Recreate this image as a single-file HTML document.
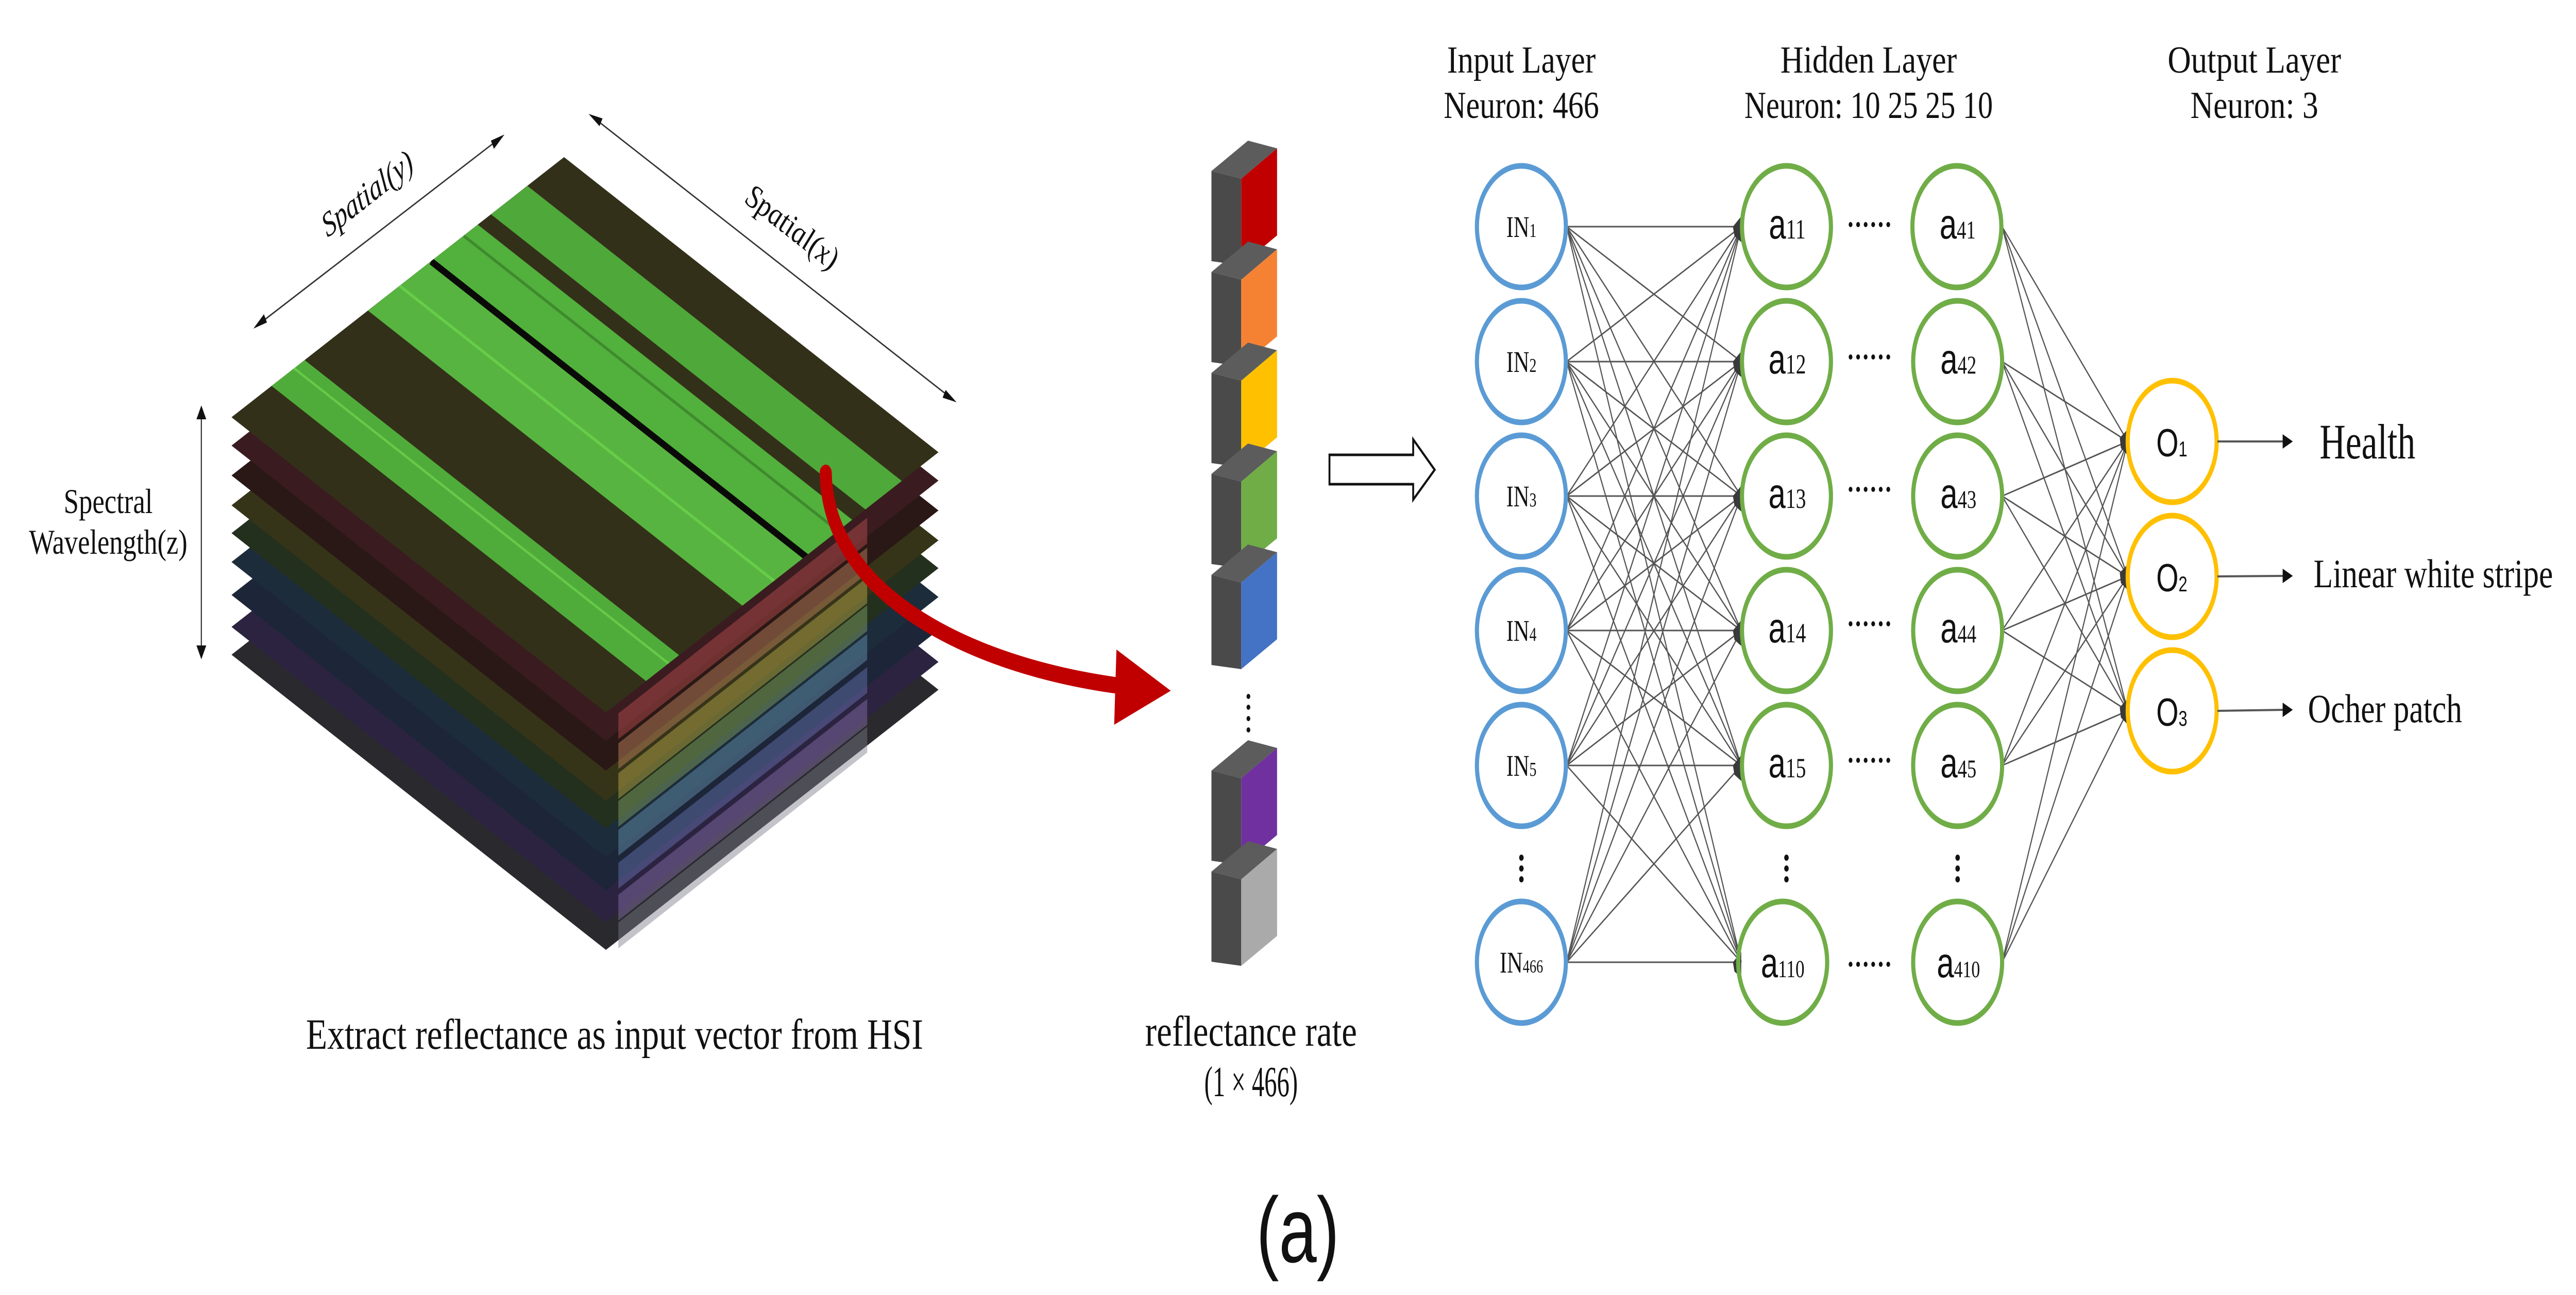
<!DOCTYPE html>
<html><head><meta charset="utf-8"><style>
html,body{margin:0;padding:0;background:#fff;overflow:hidden;width:100%;height:100%;}
svg{display:block;width:100vw;height:100vh;}
.s{font-family:"Liberation Serif",serif;fill:#111;}
.a{font-family:"Liberation Sans",sans-serif;fill:#111;}
</style></head><body>
<svg viewBox="0 0 6832 2514" preserveAspectRatio="none" xmlns="http://www.w3.org/2000/svg">
<defs>
<polygon id="L" points="1496,305 2489,878 1607,1383 614,810"/>
<clipPath id="topclip"><polygon points="1496,305 2489,878 1607,1383 614,810"/></clipPath>
<polygon id="P1" points="1640,1330 2300,950 2300,1000 1640,1380"/>
</defs>
<rect width="6832" height="2514" fill="#fff"/>

<g>
<use href="#L" transform="translate(0,461)" fill="#2a2a2e"/>
<use href="#P1" transform="translate(0,461)" fill="#7a7a88" opacity="0.45"/>
<use href="#L" transform="translate(0,407)" fill="#2c2340"/>
<use href="#P1" transform="translate(0,407)" fill="#8a70b0" opacity="0.45"/>
<use href="#L" transform="translate(0,345)" fill="#1d2538"/>
<use href="#P1" transform="translate(0,345)" fill="#6a78b8" opacity="0.45"/>
<use href="#L" transform="translate(0,281)" fill="#1c2c3a"/>
<use href="#P1" transform="translate(0,281)" fill="#6a98b8" opacity="0.45"/>
<use href="#L" transform="translate(0,225)" fill="#24301e"/>
<use href="#P1" transform="translate(0,225)" fill="#88a868" opacity="0.45"/>
<use href="#L" transform="translate(0,171)" fill="#363418"/>
<use href="#P1" transform="translate(0,171)" fill="#c0b050" opacity="0.45"/>
<use href="#L" transform="translate(0,113)" fill="#2a1816"/>
<use href="#P1" transform="translate(0,113)" fill="#c88a60" opacity="0.45"/>
<use href="#L" transform="translate(0,55)" fill="#3a1c20"/>
<use href="#P1" transform="translate(0,55)" fill="#c05050" opacity="0.45"/>
<use href="#L" fill="#33301a"/>
<g clip-path="url(#topclip)">
<polygon points="1399,361 1302,416 2394,1046 2491,991" fill="#4fa83a"/>
<polygon points="1267,436 1143,507 2235,1137 2359,1066" fill="#52b03c"/>
<polygon points="1143,507 976,603 2068,1233 2235,1137" fill="#58b440"/>
<polygon points="808,699 720,749 1812,1379 1900,1329" fill="#50ac3a"/>
<line x1="1143" y1="507" x2="2235" y2="1137" stroke="#0a0a08" stroke-width="14"/>
<line x1="1060" y1="555" x2="2152" y2="1185" stroke="#6ed84e" stroke-width="6" opacity="0.7"/>
<line x1="1230" y1="458" x2="2322" y2="1088" stroke="#3f8a2e" stroke-width="6"/>
<line x1="780" y1="715" x2="1872" y2="1345" stroke="#70d850" stroke-width="5" opacity="0.7"/>
</g>
</g>

<g stroke="#333" stroke-width="3" fill="#111">
<line x1="680" y1="633" x2="1330" y2="266"/>
<polygon points="672,638 700,610 708,626" stroke="none"/>
<polygon points="1338,261 1310,289 1302,273" stroke="none"/>
<line x1="1570" y1="226" x2="2528" y2="776"/>
<polygon points="1561,221 1598,230 1590,245" stroke="none"/>
<polygon points="2537,781 2500,772 2508,757" stroke="none"/>
<line x1="534" y1="800" x2="534" y2="1267"/>
<polygon points="534,787 521,814 547,814" stroke="none"/>
<polygon points="534,1280 521,1253 547,1253" stroke="none"/>
</g>
<text class="s" font-size="68" font-style="italic" text-anchor="middle" transform="translate(985,395) rotate(-30)">Spatial(y)</text>
<text class="s" font-size="68" font-style="italic" text-anchor="middle" transform="translate(2090,460) rotate(30)">Spatial(x)</text>
<text class="s" font-size="68" x="287" y="996" text-anchor="middle" textLength="236" lengthAdjust="spacingAndGlyphs">Spectral</text>
<text class="s" font-size="68" x="287" y="1075" text-anchor="middle" textLength="420" lengthAdjust="spacingAndGlyphs">Wavelength(z)</text>

<path d="M2190,918 C2195,1150 2560,1290 2965,1331" fill="none" stroke="#c00000" stroke-width="32" stroke-linecap="round"/>
<polygon points="2961,1261 3105,1341 2955,1407" fill="#c00000"/>

<text class="s" font-size="84" x="1630" y="2036" text-anchor="middle" textLength="1637" lengthAdjust="spacingAndGlyphs">Extract reflectance as input vector from HSI</text>

<defs>
<g id="B">
<polygon points="3213,332 3292,347 3387,288 3310,273" fill="#5c5c5c"/>
<polygon points="3213,332 3292,347 3292,515 3213,507" fill="#4a4a4a"/>
</g>
<polygon id="F" points="3292,347 3387,288 3387,457 3292,515"/>
</defs>
<use href="#B"/><use href="#F" fill="#c00000"/>
<use href="#B" transform="translate(0,196)"/><use href="#F" transform="translate(0,196)" fill="#f58233"/>
<use href="#B" transform="translate(0,392)"/><use href="#F" transform="translate(0,392)" fill="#ffc000"/>
<use href="#B" transform="translate(0,588)"/><use href="#F" transform="translate(0,588)" fill="#70ad47"/>
<use href="#B" transform="translate(0,784)"/><use href="#F" transform="translate(0,784)" fill="#4472c4"/>
<use href="#B" transform="translate(0,1164)"/><use href="#F" transform="translate(0,1164)" fill="#7030a0"/>
<use href="#B" transform="translate(0,1360)"/><use href="#F" transform="translate(0,1360)" fill="#aaaaaa"/>
<g fill="#111"><circle cx="3311" cy="1352" r="5"/><circle cx="3311" cy="1373" r="5"/><circle cx="3311" cy="1395" r="5"/><circle cx="3311" cy="1417" r="5"/></g>
<text class="s" font-size="84" x="3318" y="2030" text-anchor="middle" textLength="562" lengthAdjust="spacingAndGlyphs">reflectance rate</text>
<text class="s" font-size="84" x="3318" y="2128" text-anchor="middle" textLength="248" lengthAdjust="spacingAndGlyphs">(1 × 466)</text>

<polygon points="3526,883 3748,883 3748,853 3805,912 3748,970 3748,940 3526,940" fill="#fff" stroke="#111" stroke-width="5"/>

<text class="a" font-size="180" x="3442" y="2450" text-anchor="middle">(a)</text>

<g class="s" font-size="74" text-anchor="middle" lengthAdjust="spacingAndGlyphs">
<text x="4035" y="141" textLength="394" lengthAdjust="spacingAndGlyphs">Input Layer</text>
<text x="4035" y="229" textLength="412" lengthAdjust="spacingAndGlyphs">Neuron: 466</text>
<text x="4956" y="141" textLength="468" lengthAdjust="spacingAndGlyphs">Hidden Layer</text>
<text x="4956" y="229" textLength="659" lengthAdjust="spacingAndGlyphs">Neuron: 10 25 25 10</text>
<text x="5979" y="141" textLength="460" lengthAdjust="spacingAndGlyphs">Output Layer</text>
<text x="5979" y="229" textLength="339" lengthAdjust="spacingAndGlyphs">Neuron: 3</text>
</g>

<path fill="none" stroke="#555" stroke-width="3" d="
M4155 440L4618 440M4155 440L4618 702M4155 440L4618 963M4155 440L4618 1224M4155 440L4618 1486M4155 440L4618 1868
M4155 702L4618 440M4155 702L4618 702M4155 702L4618 963M4155 702L4618 1224M4155 702L4618 1486M4155 702L4618 1868
M4155 963L4618 440M4155 963L4618 702M4155 963L4618 963M4155 963L4618 1224M4155 963L4618 1486M4155 963L4618 1868
M4155 1224L4618 440M4155 1224L4618 702M4155 1224L4618 963M4155 1224L4618 1224M4155 1224L4618 1486M4155 1224L4618 1868
M4155 1486L4618 440M4155 1486L4618 702M4155 1486L4618 963M4155 1486L4618 1224M4155 1486L4618 1486M4155 1486L4618 1868
M4155 1868L4618 440M4155 1868L4618 702M4155 1868L4618 963M4155 1868L4618 1224M4155 1868L4618 1486M4155 1868L4618 1868
M5310 440L5643 857M5310 440L5643 1119M5310 440L5643 1380
M5310 702L5643 857M5310 702L5643 1119M5310 702L5643 1380
M5310 963L5643 857M5310 963L5643 1119M5310 963L5643 1380
M5310 1224L5643 857M5310 1224L5643 1119M5310 1224L5643 1380
M5310 1486L5643 857M5310 1486L5643 1119M5310 1486L5643 1380
M5310 1868L5643 857M5310 1868L5643 1119M5310 1868L5643 1380
"/>
<g fill="#3a3a3a">
<path d="M4618 420 L4618 470 L4600 458 L4596 440 Z"/>
<path d="M4618 420 L4618 470 L4600 458 L4596 440 Z" transform="translate(0,262)"/>
<path d="M4618 420 L4618 470 L4600 458 L4596 440 Z" transform="translate(0,523)"/>
<path d="M4618 420 L4618 470 L4600 458 L4596 440 Z" transform="translate(0,784)"/>
<path d="M4618 420 L4618 470 L4600 458 L4596 440 Z" transform="translate(0,1046)"/>
<path d="M4618 420 L4618 470 L4600 458 L4596 440 Z" transform="translate(0,1428)"/>
<path d="M5645 832 L5645 885 L5625 870 L5622 850 Z"/>
<path d="M5645 832 L5645 885 L5625 870 L5622 850 Z" transform="translate(0,262)"/>
<path d="M5645 832 L5645 885 L5625 870 L5622 850 Z" transform="translate(0,523)"/>
</g>

<g fill="none" stroke-width="11">
<g stroke="#5b9bd5">
<circle cx="4035" cy="440" r="118"/><circle cx="4035" cy="702" r="118"/><circle cx="4035" cy="963" r="118"/>
<circle cx="4035" cy="1224" r="118"/><circle cx="4035" cy="1486" r="118"/><circle cx="4035" cy="1868" r="118"/>
</g>
<g stroke="#70ad47">
<circle cx="4738" cy="440" r="118"/><circle cx="4738" cy="702" r="118"/><circle cx="4738" cy="963" r="118"/>
<circle cx="4738" cy="1224" r="118"/><circle cx="4738" cy="1486" r="118"/><circle cx="4728" cy="1868" r="118"/>
<circle cx="5190" cy="440" r="118"/><circle cx="5192" cy="702" r="118"/><circle cx="5192" cy="963" r="118"/>
<circle cx="5192" cy="1224" r="118"/><circle cx="5192" cy="1486" r="118"/><circle cx="5192" cy="1868" r="118"/>
</g>
<g stroke="#ffc000">
<circle cx="5761" cy="857" r="118"/><circle cx="5761" cy="1119" r="118"/><circle cx="5761" cy="1380" r="118"/>
</g>
</g>

<g class="s" font-size="58" text-anchor="middle">
<text x="4035" y="460">IN<tspan font-size="38">1</tspan></text>
<text x="4035" y="722">IN<tspan font-size="38">2</tspan></text>
<text x="4035" y="983">IN<tspan font-size="38">3</tspan></text>
<text x="4035" y="1244">IN<tspan font-size="38">4</tspan></text>
<text x="4035" y="1506">IN<tspan font-size="38">5</tspan></text>
<text x="4035" y="1888">IN<tspan font-size="36">466</tspan></text>
</g>
<g text-anchor="middle">
<text x="4740" y="463"><tspan class="a" font-size="82">a</tspan><tspan class="s" font-size="54">11</tspan></text>
<text x="4740" y="725"><tspan class="a" font-size="82">a</tspan><tspan class="s" font-size="54">12</tspan></text>
<text x="4740" y="986"><tspan class="a" font-size="82">a</tspan><tspan class="s" font-size="54">13</tspan></text>
<text x="4740" y="1247"><tspan class="a" font-size="82">a</tspan><tspan class="s" font-size="54">14</tspan></text>
<text x="4740" y="1509"><tspan class="a" font-size="82">a</tspan><tspan class="s" font-size="54">15</tspan></text>
<text x="4728" y="1897"><tspan class="a" font-size="82">a</tspan><tspan class="s" font-size="48">110</tspan></text>
<text x="5192" y="463"><tspan class="a" font-size="82">a</tspan><tspan class="s" font-size="50">41</tspan></text>
<text x="5194" y="725"><tspan class="a" font-size="82">a</tspan><tspan class="s" font-size="50">42</tspan></text>
<text x="5194" y="986"><tspan class="a" font-size="82">a</tspan><tspan class="s" font-size="50">43</tspan></text>
<text x="5194" y="1247"><tspan class="a" font-size="82">a</tspan><tspan class="s" font-size="50">44</tspan></text>
<text x="5194" y="1509"><tspan class="a" font-size="82">a</tspan><tspan class="s" font-size="50">45</tspan></text>
<text x="5194" y="1897"><tspan class="a" font-size="82">a</tspan><tspan class="s" font-size="46">410</tspan></text>
<text x="5760" y="886"><tspan class="a" font-size="76">O</tspan><tspan class="a" font-size="42">1</tspan></text>
<text x="5760" y="1148"><tspan class="a" font-size="76">O</tspan><tspan class="a" font-size="42">2</tspan></text>
<text x="5760" y="1409"><tspan class="a" font-size="76">O</tspan><tspan class="a" font-size="42">3</tspan></text>
</g>

<g fill="#111">
<g id="hd"><circle cx="4908" cy="436" r="5"/><circle cx="4928" cy="436" r="5"/><circle cx="4948" cy="436" r="5"/><circle cx="4968" cy="436" r="5"/><circle cx="4988" cy="436" r="5"/><circle cx="5008" cy="436" r="5"/></g>
<use href="#hd" transform="translate(0,257)"/>
<use href="#hd" transform="translate(0,514)"/>
<use href="#hd" transform="translate(0,775)"/>
<use href="#hd" transform="translate(0,1040)"/>
<use href="#hd" transform="translate(0,1436)"/>
<g id="vd"><circle cx="4035" cy="1665" r="6"/><circle cx="4035" cy="1686" r="6"/><circle cx="4035" cy="1707" r="6"/></g>
<use href="#vd" transform="translate(703,0)"/>
<use href="#vd" transform="translate(1157,0)"/>
</g>

<g stroke="#555" stroke-width="4">
<line x1="5881" y1="857" x2="6058" y2="857"/>
<line x1="5881" y1="1119" x2="6058" y2="1118"/>
<line x1="5881" y1="1380" x2="6058" y2="1378"/>
</g>
<g fill="#111">
<polygon points="6054,843 6081,857 6054,871"/>
<polygon points="6054,1104 6081,1118 6054,1132"/>
<polygon points="6054,1364 6081,1378 6054,1392"/>
</g>
<text class="s" font-size="96" x="6152" y="890" textLength="254" lengthAdjust="spacingAndGlyphs">Health</text>
<text class="s" font-size="78" x="6136" y="1140" textLength="635" lengthAdjust="spacingAndGlyphs">Linear white stripe</text>
<text class="s" font-size="78" x="6121" y="1402" textLength="409" lengthAdjust="spacingAndGlyphs">Ocher patch</text>
</svg>
</body></html>
